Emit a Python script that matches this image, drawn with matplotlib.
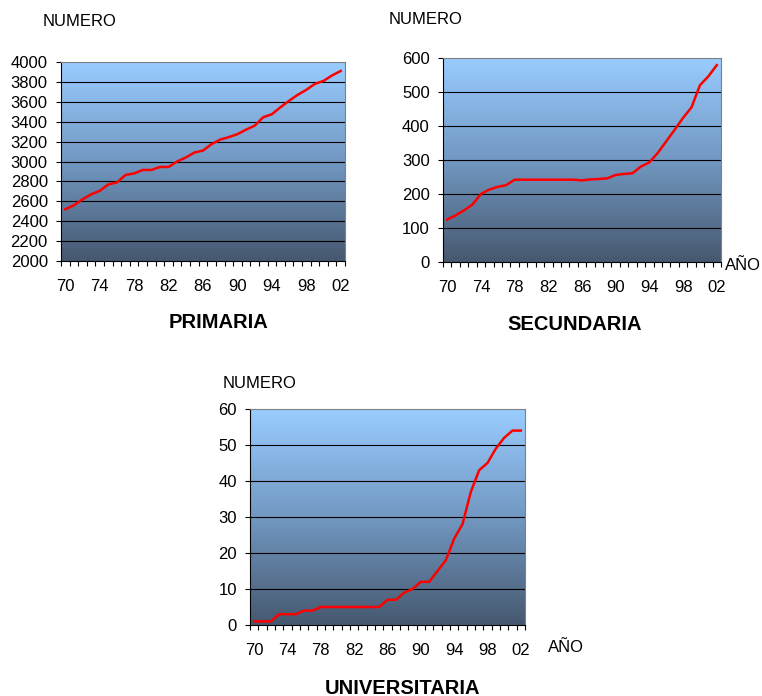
import matplotlib.pyplot as plt
import numpy as np
from matplotlib.colors import LinearSegmentedColormap

plt.rcParams['font.family'] = ['Liberation Sans', 'DejaVu Sans']

years = list(range(1970, 2003))
year_labels = ["70", "74", "78", "82", "86", "90", "94", "98", "02"]

primaria = [2520, 2560, 2620, 2670, 2705, 2770, 2790, 2865, 2880, 2915, 2915,
            2945, 2945, 3000, 3040, 3090, 3110, 3175, 3220, 3245, 3275, 3320,
            3360, 3445, 3475, 3545, 3610, 3670, 3720, 3780, 3810, 3865, 3910]
secundaria = [125, 137, 152, 169, 200, 213, 221, 226, 242, 242, 242, 242, 242,
              242, 242, 242, 240, 243, 244, 246, 256, 259, 261, 281, 293, 321,
              355, 389, 424, 455, 520, 546, 579]
universitaria = [1, 1, 1, 3, 3, 3, 4, 4, 5, 5, 5, 5, 5, 5, 5, 5, 7, 7, 9, 10,
                 12, 12, 15, 18, 24, 28, 37, 43, 45, 49, 52, 54, 54]

grad = LinearSegmentedColormap.from_list("bg", ["#46586f", "#7298c2", "#99ccff"])

fig = plt.figure(figsize=(7.62, 6.96), dpi=100)


def draw(rect, values, ymin, ymax, step, title, title_xy, numero_xy, anio_xy=None):
    ax = fig.add_axes(rect)
    x = np.arange(len(values))
    ax.set_xlim(-0.5, len(values) - 0.5)
    ax.set_ylim(ymin, ymax)
    ax.imshow(np.linspace(0, 1, 256).reshape(-1, 1), cmap=grad, origin="lower",
              extent=[-0.5, len(values) - 0.5, ymin, ymax], aspect="auto", zorder=0)
    for yv in np.arange(ymin + step, ymax, step):
        ax.axhline(yv, color="black", lw=0.8, zorder=1)
    ax.plot(x, values, color="#ff0000", lw=1.8, zorder=3)
    ax.set_yticks(np.arange(ymin, ymax + step / 2, step))
    ax.set_xticks(np.arange(0, len(values), 4))
    ax.set_xticklabels(year_labels)
    ax.set_xticks(np.arange(-0.5, len(values)), minor=True)
    ax.tick_params(axis="x", which="major", length=0, pad=13, labelsize=12)
    ax.tick_params(axis="x", which="minor", length=3.5, width=0.8, direction="out")
    ax.tick_params(axis="y", length=3.5, width=0.8, pad=6, labelsize=12)
    for s in ["left", "bottom"]:
        ax.spines[s].set_color("black")
    for s in ["top", "right"]:
        ax.spines[s].set_color("#808080")
    fig.text(title_xy[0] / 762, 1 - title_xy[1] / 696, title, ha="center",
             va="center", fontsize=14.5, fontweight="bold")
    fig.text(numero_xy[0] / 762, 1 - numero_xy[1] / 696, "NUMERO", ha="center",
             va="center", fontsize=12)
    if anio_xy:
        fig.text(anio_xy[0] / 762, 1 - anio_xy[1] / 696, "AÑO", ha="center",
                 va="center", fontsize=12)


draw([61 / 762, 1 - 261 / 696, 284 / 762, 199 / 696], primaria, 2000, 4000, 200,
     "PRIMARIA", (218, 322), (80, 22))
draw([443 / 762, 1 - 262 / 696, 278 / 762, 204 / 696], secundaria, 0, 600, 100,
     "SECUNDARIA", (575, 325), (426, 20), (743, 265))
draw([250 / 762, 1 - 625 / 696, 275 / 762, 216 / 696], universitaria, 0, 60, 10,
     "UNIVERSITARIA", (403, 688), (260, 384), (566, 647))

fig.savefig("out.png", dpi=100)
